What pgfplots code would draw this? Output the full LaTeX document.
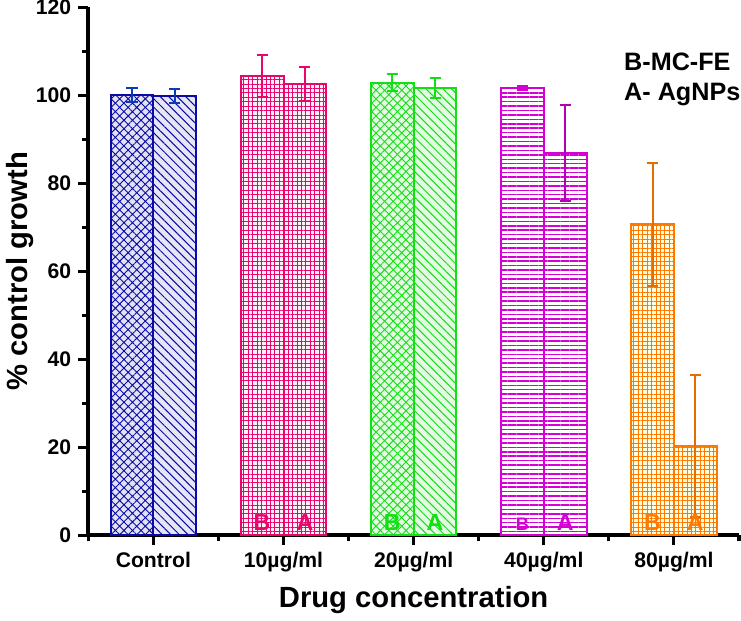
\documentclass[border=0pt]{standalone}
\usepackage{pgfplots}
\pgfplotsset{compat=1.18}
\usetikzlibrary{patterns.meta}
\usepackage{fontspec}
\setmainfont{Liberation Sans}
\definecolor{cB}{RGB}{10,10,165}
\definecolor{cP}{RGB}{232,5,110}
\definecolor{cG}{RGB}{20,222,20}
\definecolor{cM}{RGB}{212,0,212}
\definecolor{cO}{RGB}{255,120,0}
\begin{document}
\begin{tikzpicture}
\begin{axis}[
  scale only axis, width=323pt, height=262pt,
  xmin=-0.5, xmax=4.5, ymin=0, ymax=120,
  axis x line*=bottom, axis y line*=left,
  axis line style={line width=2pt, black},
  every outer x axis line/.append style={line width=2pt},
  every outer y axis line/.append style={line width=2pt},
  ybar, bar width=21.25pt,
  xtick={0,1,2,3,4},
  xticklabels={Control,10µg/ml,20µg/ml,40µg/ml,80µg/ml},
  minor xtick={-0.5,0.5,1.5,2.5,3.5,4.5},
  ytick={0,20,...,120}, minor ytick={10,30,...,110},
  tick align=outside,
  major tick length=5pt, minor tick length=3pt,
  major tick style={black, line width=1.5pt},
  minor tick style={black, line width=1.5pt},
  tick label style={font=\fontsize{10.5}{12}\selectfont\bfseries},
  yticklabel style={inner ysep=0pt},
  /pgf/number format/assume math mode=true,
  xlabel={Drug concentration}, ylabel={\% control growth},
  label style={font=\fontsize{14.5}{16}\selectfont\bfseries},
  ylabel shift=-6pt,
  error bars/y dir=both, error bars/y explicit,
  error bars/error mark options={rotate=90, mark size=2.75pt, line width=1pt},
  clip=false,
]
% Control
\addplot[draw=cB, line width=1pt, fill=cB!12, postaction={pattern={Hatch[angle=45,distance=3pt,line width=0.45pt]}, pattern color=cB}, bar shift=-10.625pt,
  error bars/error bar style={line width=1pt, cB!80!cyan}]
  coordinates {(0,100) +- (0,1.6)};
\addplot[draw=cB, line width=1pt, fill=cB!10, postaction={pattern={Lines[angle=-45,distance=3pt,line width=0.5pt]}, pattern color=cB}, bar shift=10.625pt,
  error bars/error bar style={line width=1pt, cB!80!cyan}]
  coordinates {(0,99.9) +- (0,1.6)};
% 10
\addplot[draw=cP, line width=1pt, fill=cP!6, postaction={pattern={Hatch[angle=0,distance=2.2pt,line width=0.4pt]}, pattern color=cP}, bar shift=-10.625pt,
  error bars/error bar style={line width=1pt, cP}]
  coordinates {(1,104.5) +- (0,4.8)};
\addplot[draw=cP, line width=1pt, fill=cP!6, postaction={pattern={Hatch[angle=0,distance=2.2pt,line width=0.4pt]}, pattern color=cP}, bar shift=10.625pt,
  error bars/error bar style={line width=1pt, cP}]
  coordinates {(1,102.6) +- (0,3.8)};
% 20
\addplot[draw=cG, line width=1pt, fill=cG!12, postaction={pattern={Hatch[angle=45,distance=3pt,line width=0.45pt]}, pattern color=cG}, bar shift=-10.625pt,
  error bars/error bar style={line width=1pt, cG}]
  coordinates {(2,102.9) +- (0,1.9)};
\addplot[draw=cG, line width=1pt, fill=cG!12, postaction={pattern={Lines[angle=-45,distance=3pt,line width=0.5pt]}, pattern color=cG}, bar shift=10.625pt,
  error bars/error bar style={line width=1pt, cG}]
  coordinates {(2,101.7) +- (0,2.3)};
% 40
\addplot[draw=cM, line width=1pt, fill=white, postaction={pattern={Lines[angle=0,distance=2.2pt,line width=0.75pt]}, pattern color=cM}, bar shift=-10.625pt,
  error bars/error bar style={line width=1pt, cM}]
  coordinates {(3,101.7) +- (0,0.4)};
\addplot[draw=cM, line width=1pt, fill=white, postaction={pattern={Lines[angle=0,distance=2.2pt,line width=0.75pt]}, pattern color=cM}, bar shift=10.625pt,
  error bars/error bar style={line width=1pt, cM!85!black}]
  coordinates {(3,86.9) +- (0,10.9)};
% 80
\addplot[draw=cO, line width=1pt, fill=yellow!12, postaction={pattern={Hatch[angle=0,distance=2.2pt,line width=0.35pt]}, pattern color=cO}, bar shift=-10.625pt,
  error bars/error bar style={line width=1pt, cO!90!black}]
  coordinates {(4,70.7) +- (0,14)};
\addplot[draw=cO, line width=1pt, fill=yellow!12, postaction={pattern={Hatch[angle=0,distance=2.2pt,line width=0.35pt]}, pattern color=cO}, bar shift=10.625pt,
  error bars/error bar style={line width=1pt, cO!90!black}]
  coordinates {(4,20.3) +- (0,16.2)};
% B / A labels
\begin{scope}[every node/.style={anchor=south, inner sep=0pt, yshift=2pt, font=\fontsize{11.5}{12}\selectfont\bfseries}]
\node[text=cP, xshift=-10.625pt] at (axis cs:1,0) {B};
\node[text=cP, xshift=10.625pt] at (axis cs:1,0) {A};
\node[text=cG, xshift=-10.625pt] at (axis cs:2,0) {B};
\node[text=cG, xshift=10.625pt] at (axis cs:2,0) {A};
\node[text=cM, xshift=-10.625pt, font=\fontsize{9}{10}\selectfont\bfseries] at (axis cs:3,0) {B};
\node[text=cM, xshift=10.625pt] at (axis cs:3,0) {A};
\node[text=cO, xshift=-10.625pt] at (axis cs:4,0) {B};
\node[text=cO, xshift=10.625pt] at (axis cs:4,0) {A};
\end{scope}
\node[anchor=north west, align=left, inner sep=0pt, font=\fontsize{12.5}{15}\selectfont\bfseries] at (rel axis cs:0.823,0.915) {B-MC-FE\\A- AgNPs};
\end{axis}
\end{tikzpicture}
\end{document}
